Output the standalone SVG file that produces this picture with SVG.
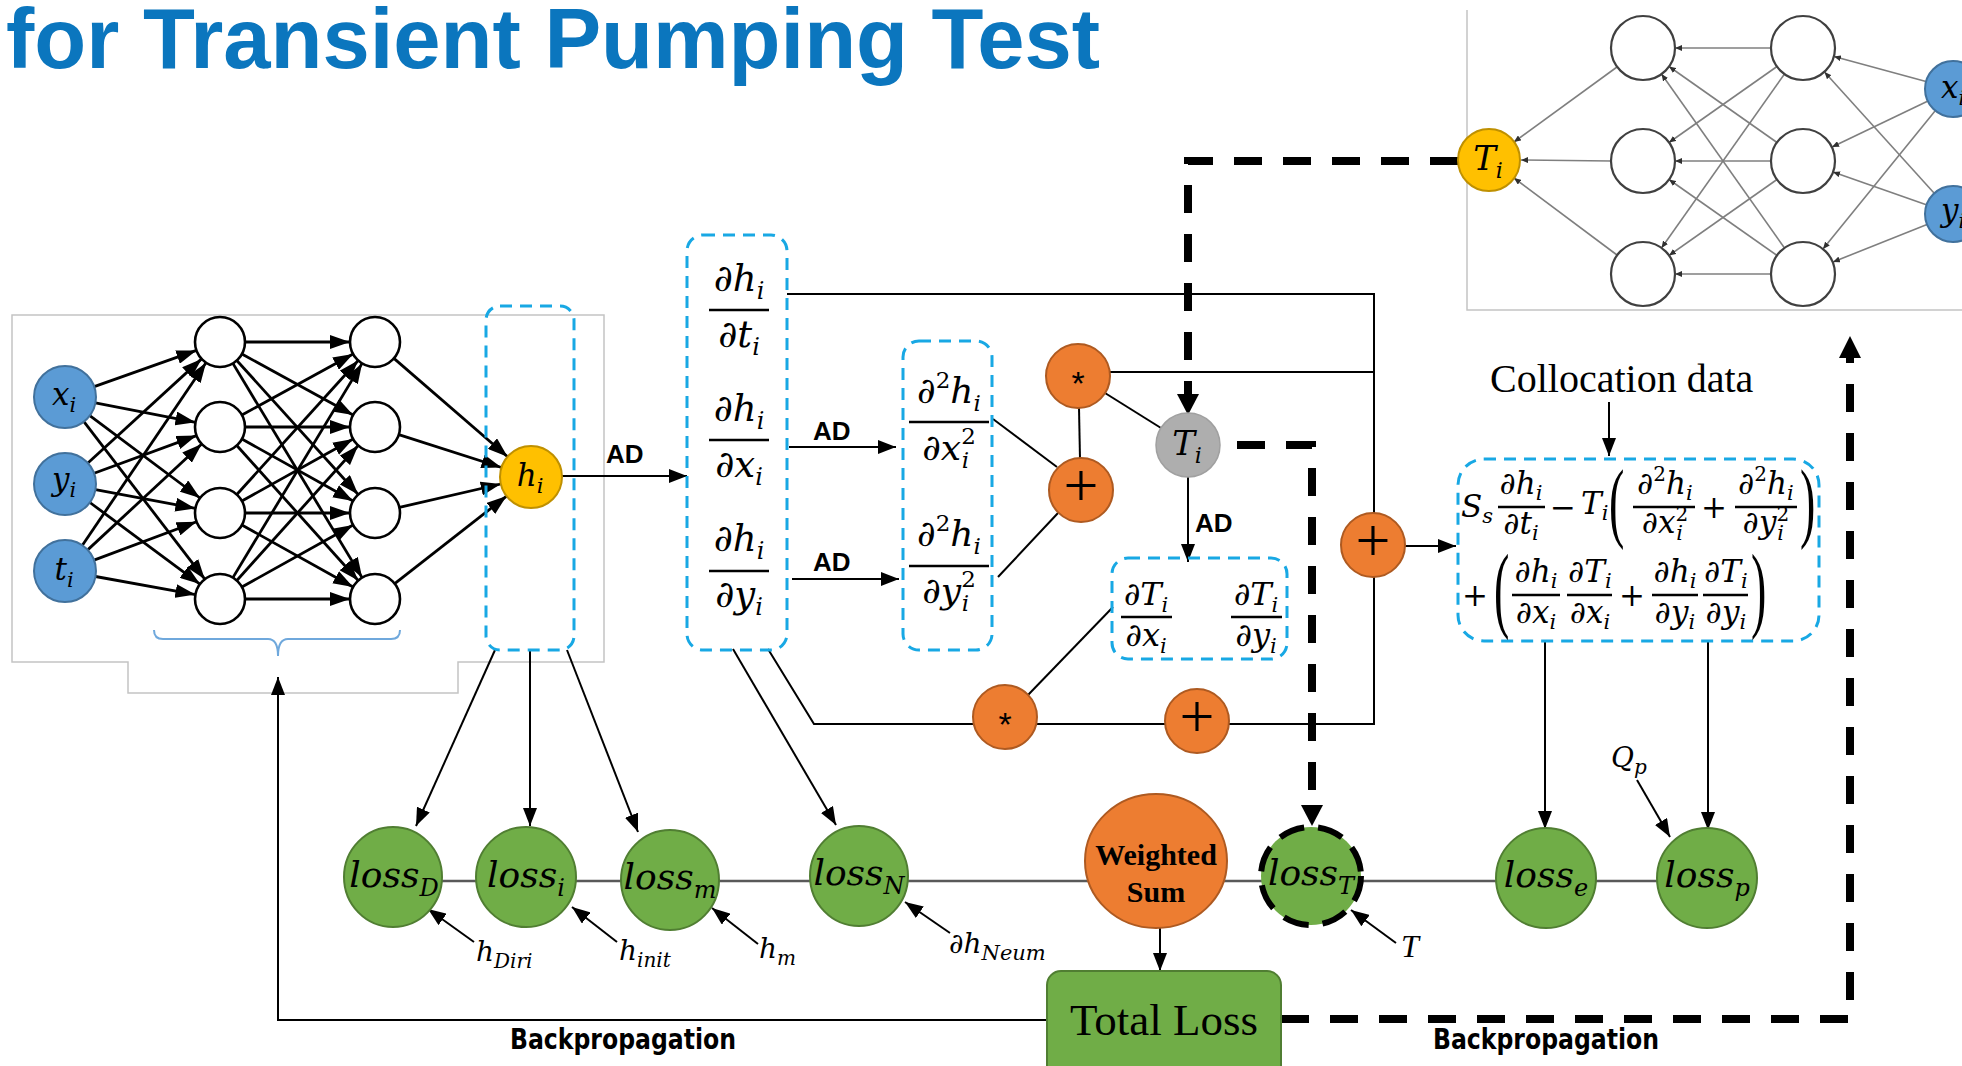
<svg xmlns="http://www.w3.org/2000/svg" width="1962" height="1066" viewBox="0 0 1962 1066">
<defs>
<style>
.title{font-family:"Liberation Sans",Arial,sans-serif;font-weight:bold;font-size:85px;fill:#0B76BE}
.c{stroke:#000;stroke-width:2;fill:none}
.ca{stroke:#000;stroke-width:2;fill:none;marker-end:url(#ah)}
.nn{stroke:#000;stroke-width:2.8;marker-end:url(#ahNN)}
.tr{stroke:#7F7F7F;stroke-width:1.6;marker-end:url(#ahS)}
.db{fill:none;stroke:#18A8E4;stroke-width:3;stroke-dasharray:12 8}
.thick{fill:none;stroke:#000;stroke-width:8;stroke-dasharray:28 21}
.bar{stroke:#000;stroke-width:2.4}
.m{font-family:"DejaVu Serif",serif;font-style:italic;fill:#000}
.u{font-style:normal}
.ad{font-family:"Liberation Sans",Arial,sans-serif;font-weight:bold;font-size:26px}
.blue{fill:#5B9BD5;stroke:#41719C;stroke-width:2}
.yel{fill:#FFC000;stroke:#BF9000;stroke-width:2}
.gry{fill:#AEAEAE;stroke:#A0A0A0;stroke-width:1.5}
.org{fill:#ED7D31;stroke:#AE5A21;stroke-width:2}
.grn{fill:#70AD47;stroke:#507E32;stroke-width:2}
.hid{fill:#fff;stroke:#000;stroke-width:2.6}
.hid2{fill:#fff;stroke:#404040;stroke-width:2.2}
.bp{font-family:"Liberation Sans Narrow","DejaVu Sans Condensed","Liberation Sans",sans-serif;font-weight:bold;font-size:28px}
.ser{font-family:"Liberation Serif","Times New Roman",serif}
.op{font-family:"Liberation Sans",Arial,sans-serif}
.frame{fill:none;stroke:#C4C4C4;stroke-width:1.5}
.par{font-family:"Liberation Serif","Times New Roman",serif;font-size:46px}
</style>
<marker id="ah" markerUnits="userSpaceOnUse" viewBox="0 0 18 14" refX="18" refY="7" markerWidth="18" markerHeight="14" orient="auto"><path d="M0,0 L18,7 L0,14 z" fill="#000"/></marker>
<marker id="ahNN" markerUnits="userSpaceOnUse" viewBox="0 0 20 14" refX="20" refY="7" markerWidth="20" markerHeight="14" orient="auto"><path d="M0,0 L20,7 L0,14 z" fill="#000"/></marker>
<marker id="ahS" markerUnits="userSpaceOnUse" viewBox="0 0 7 6" refX="7" refY="3" markerWidth="7" markerHeight="6" orient="auto"><path d="M0,0 L7,3 L0,6 z" fill="#303030"/></marker>
</defs>

<rect width="1962" height="1066" fill="#fff"/>

<text class="title" x="6" y="68">for Transient Pumping Test</text>

<!-- frames behind the two networks -->
<g id="frames">
<path class="frame" d="M12,315 H604 V662 H458 V693 H128 V662 H12 Z"/>
<path class="frame" d="M1467,10 V310 H1962"/>
<path d="M154,630 Q154,639 163,639 H268 Q278,639 278,656 Q278,639 288,639 H391 Q400,639 400,630" fill="none" stroke="#6FA8DC" stroke-width="2"/>
</g>

<g id="connectors">
<!-- loss row -->
<line x1="393" y1="881" x2="1707" y2="881" stroke="#595959" stroke-width="2.5"/>

<!-- primary network edges: inputs to first hidden layer -->
<line class="nn" x1="94.2" y1="386.6" x2="196.4" y2="350.4"/>
<line class="nn" x1="95.4" y1="402.9" x2="195.5" y2="422.3"/>
<line class="nn" x1="89.8" y1="415.6" x2="200" y2="498"/>
<line class="nn" x1="83.9" y1="421.6" x2="204.8" y2="579.2"/>
<line class="nn" x1="87.9" y1="463" x2="201.6" y2="358.9"/>
<line class="nn" x1="94.1" y1="473.3" x2="196.5" y2="435.6"/>
<line class="nn" x1="95.5" y1="489.7" x2="195.4" y2="508.4"/>
<line class="nn" x1="89.9" y1="502.5" x2="199.9" y2="584.1"/>
<line class="nn" x1="82.4" y1="545.3" x2="206" y2="362.7"/>
<line class="nn" x1="87.7" y1="549.9" x2="201.7" y2="444"/>
<line class="nn" x1="94" y1="560.1" x2="196.6" y2="521.8"/>
<line class="nn" x1="95.5" y1="576.5" x2="195.4" y2="594.6"/>
<!-- first hidden to second hidden -->
<line class="nn" x1="245" y1="342" x2="350" y2="342"/>
<line class="nn" x1="241.9" y1="354" x2="353.1" y2="415"/>
<line class="nn" x1="236.8" y1="360.5" x2="358.2" y2="494.5"/>
<line class="nn" x1="232.9" y1="363.4" x2="362.1" y2="577.6"/>
<line class="nn" x1="241.9" y1="415" x2="353.1" y2="354"/>
<line class="nn" x1="245" y1="427" x2="350" y2="427"/>
<line class="nn" x1="241.9" y1="439" x2="353.1" y2="501"/>
<line class="nn" x1="236.8" y1="445.5" x2="358.2" y2="580.5"/>
<line class="nn" x1="236.8" y1="494.5" x2="358.2" y2="360.5"/>
<line class="nn" x1="241.9" y1="501" x2="353.1" y2="439"/>
<line class="nn" x1="245" y1="513" x2="350" y2="513"/>
<line class="nn" x1="241.9" y1="525" x2="353.1" y2="587"/>
<line class="nn" x1="232.9" y1="577.6" x2="362.1" y2="363.4"/>
<line class="nn" x1="236.8" y1="580.5" x2="358.2" y2="445.5"/>
<line class="nn" x1="241.9" y1="587" x2="353.1" y2="525"/>
<line class="nn" x1="245" y1="599" x2="350" y2="599"/>
<!-- second hidden to output -->
<line class="nn" x1="393.9" y1="358.4" x2="507.6" y2="456.7"/>
<line class="nn" x1="398.8" y1="434.6" x2="501.5" y2="467.5"/>
<line class="nn" x1="399.4" y1="507.4" x2="500.8" y2="484"/>
<line class="nn" x1="394.7" y1="583.6" x2="506.6" y2="496.1"/>

<!-- automatic differentiation chain -->
<line class="ca" x1="562" y1="476" x2="687" y2="476"/>
<line class="ca" x1="789" y1="447" x2="896" y2="447"/>
<line class="ca" x1="792" y1="579" x2="899" y2="579"/>
<path class="c" d="M787,294 H1374 V514"/>
<line class="c" x1="1078" y1="372" x2="1374" y2="372"/>
<line class="c" x1="1079" y1="408" x2="1080" y2="459"/>
<line class="c" x1="1105" y1="393" x2="1161" y2="428"/>
<line class="c" x1="993" y1="419" x2="1057" y2="467"/>
<line class="c" x1="998" y1="577" x2="1058" y2="513"/>
<path class="c" d="M768,649 L814,724 H1374 V577"/>
<line class="c" x1="1113" y1="607" x2="1028" y2="695"/>
<line class="ca" x1="1405" y1="546" x2="1456" y2="546"/>
<line class="ca" x1="1188" y1="477" x2="1188" y2="562"/>
<line class="ca" x1="1609" y1="402" x2="1609" y2="456"/>

<!-- arrows into the loss terms -->
<line class="ca" x1="495" y1="650" x2="416" y2="826"/>
<line class="ca" x1="530" y1="650" x2="530" y2="826"/>
<line class="ca" x1="567" y1="650" x2="638" y2="832"/>
<line class="ca" x1="733" y1="649" x2="836" y2="825"/>
<line class="ca" x1="1545" y1="641" x2="1545" y2="829"/>
<line class="ca" x1="1708" y1="641" x2="1708" y2="830"/>
<line class="ca" x1="1160" y1="928" x2="1160" y2="971"/>
<line class="ca" x1="474" y1="942" x2="428" y2="909"/>
<line class="ca" x1="617" y1="942" x2="572" y2="907"/>
<line class="ca" x1="758" y1="944" x2="712" y2="908"/>
<line class="ca" x1="950" y1="933" x2="905" y2="902"/>
<line class="ca" x1="1396" y1="943" x2="1351" y2="910"/>
<line class="ca" x1="1637" y1="780" x2="1670" y2="837"/>

<!-- backpropagation to the primary network -->
<path class="ca" d="M1047,1020 H278 V677"/>

<!-- transmissivity network links and its backpropagation -->
<path class="thick" d="M1458,161 H1188 V394"/>
<polygon points="1177,394 1199,394 1188,415" fill="#000"/>
<path class="thick" d="M1237,445 H1312 V806"/>
<polygon points="1301,805 1323,805 1312,826" fill="#000"/>
<path class="thick" d="M1281,1019 H1850 V358"/>
<polygon points="1839,358 1861,358 1850,336" fill="#000"/>

<!-- secondary network edges (right to left) -->
<line class="tr" x1="1617" y1="67" x2="1514" y2="142"/>
<line class="tr" x1="1611" y1="161" x2="1521" y2="160"/>
<line class="tr" x1="1617" y1="255" x2="1514" y2="178"/>
<line class="tr" x1="1771" y1="48" x2="1675" y2="48"/>
<line class="tr" x1="1777" y1="66.5" x2="1669" y2="142.5"/>
<line class="tr" x1="1784.5" y1="74" x2="1661.5" y2="248"/>
<line class="tr" x1="1777" y1="142.5" x2="1669" y2="66.5"/>
<line class="tr" x1="1771" y1="161" x2="1675" y2="161"/>
<line class="tr" x1="1777" y1="179.5" x2="1669" y2="255.5"/>
<line class="tr" x1="1784.5" y1="248" x2="1661.5" y2="74"/>
<line class="tr" x1="1777" y1="255.5" x2="1669" y2="179.5"/>
<line class="tr" x1="1771" y1="274" x2="1675" y2="274"/>
<line class="tr" x1="1926" y1="81.6" x2="1834" y2="56.4"/>
<line class="tr" x1="1928" y1="101" x2="1832" y2="147"/>
<line class="tr" x1="1935" y1="111" x2="1823" y2="249"/>
<line class="tr" x1="1934" y1="193" x2="1824.5" y2="72"/>
<line class="tr" x1="1927" y1="205" x2="1833" y2="172"/>
<line class="tr" x1="1927" y1="224.4" x2="1833" y2="262"/>
</g>

<!-- AD labels -->
<g id="ad-labels">
<text class="ad" x="606" y="463">AD</text>
<text class="ad" x="813" y="440">AD</text>
<text class="ad" x="813" y="571">AD</text>
<text class="ad" x="1195" y="532">AD</text>
</g>

<!-- primary network -->
<g id="node-x-in"><circle class="blue" cx="65" cy="397" r="31"/><text class="m" x="64" y="405" text-anchor="middle" font-size="31">x<tspan font-size="21" dy="7">i</tspan></text></g>
<g id="node-y-in"><circle class="blue" cx="65" cy="484" r="31"/><text class="m" x="64" y="490" text-anchor="middle" font-size="31">y<tspan font-size="21" dy="7">i</tspan></text></g>
<g id="node-t-in"><circle class="blue" cx="65" cy="571" r="31"/><text class="m" x="64" y="580" text-anchor="middle" font-size="31">t<tspan font-size="21" dy="7">i</tspan></text></g>
<g id="hidden-1">
<circle class="hid" cx="220" cy="342" r="25"/><circle class="hid" cx="220" cy="427" r="25"/>
<circle class="hid" cx="220" cy="513" r="25"/><circle class="hid" cx="220" cy="599" r="25"/>
</g>
<g id="hidden-2">
<circle class="hid" cx="375" cy="342" r="25"/><circle class="hid" cx="375" cy="427" r="25"/>
<circle class="hid" cx="375" cy="513" r="25"/><circle class="hid" cx="375" cy="599" r="25"/>
</g>
<g id="node-h"><circle class="yel" cx="531" cy="477" r="31"/><text class="m" x="530" y="486" text-anchor="middle" font-size="31">h<tspan font-size="21" dy="7">i</tspan></text></g>
<g id="box-h"><rect class="db" x="486" y="306" width="88" height="344" rx="14"/></g>

<!-- first derivatives -->
<g id="box-first-derivatives">
<rect class="db" x="687" y="235" width="100" height="415" rx="16"/>
<text class="m" x="739" y="291" text-anchor="middle" font-size="37"><tspan class="u">∂</tspan>h<tspan font-size="24" dy="8">i</tspan></text>
<line class="bar" x1="709" y1="310" x2="769" y2="310"/>
<text class="m" x="739" y="347" text-anchor="middle" font-size="37"><tspan class="u">∂</tspan>t<tspan font-size="24" dy="8">i</tspan></text>
<text class="m" x="739" y="421" text-anchor="middle" font-size="37"><tspan class="u">∂</tspan>h<tspan font-size="24" dy="8">i</tspan></text>
<line class="bar" x1="709" y1="440" x2="769" y2="440"/>
<text class="m" x="739" y="477" text-anchor="middle" font-size="37"><tspan class="u">∂</tspan>x<tspan font-size="24" dy="8">i</tspan></text>
<text class="m" x="739" y="551" text-anchor="middle" font-size="37"><tspan class="u">∂</tspan>h<tspan font-size="24" dy="8">i</tspan></text>
<line class="bar" x1="709" y1="571" x2="769" y2="571"/>
<text class="m" x="739" y="607" text-anchor="middle" font-size="37"><tspan class="u">∂</tspan>y<tspan font-size="24" dy="8">i</tspan></text>
</g>

<!-- second derivatives -->
<g id="box-second-derivatives">
<rect class="db" x="903" y="341" width="89" height="309" rx="16"/>
<text class="m" x="949" y="403" text-anchor="middle" font-size="36"><tspan class="u">∂</tspan><tspan class="u" font-size="23" dy="-15">2</tspan><tspan dy="15">h</tspan><tspan font-size="23" dy="8">i</tspan></text>
<line class="bar" x1="909" y1="422" x2="989" y2="422"/>
<text class="m" x="949" y="460" text-anchor="middle" font-size="36"><tspan class="u">∂</tspan>x<tspan class="u" font-size="23" dy="-16">2</tspan><tspan font-size="23" dx="-14" dy="24">i</tspan></text>
<text class="m" x="949" y="546" text-anchor="middle" font-size="36"><tspan class="u">∂</tspan><tspan class="u" font-size="23" dy="-15">2</tspan><tspan dy="15">h</tspan><tspan font-size="23" dy="8">i</tspan></text>
<line class="bar" x1="909" y1="566" x2="989" y2="566"/>
<text class="m" x="949" y="603" text-anchor="middle" font-size="36"><tspan class="u">∂</tspan>y<tspan class="u" font-size="23" dy="-16">2</tspan><tspan font-size="23" dx="-14" dy="24">i</tspan></text>
</g>

<!-- operators -->
<g id="op-mul-1"><circle class="org" cx="1078" cy="376" r="32"/><text class="op" x="1078" y="395" text-anchor="middle" font-size="34">*</text></g>
<g id="op-add-1"><circle class="org" cx="1081" cy="490" r="32"/><text class="ser" x="1081" y="506" text-anchor="middle" font-size="62">+</text></g>
<g id="op-mul-2"><circle class="org" cx="1005" cy="717" r="32"/><text class="op" x="1005" y="736" text-anchor="middle" font-size="34">*</text></g>
<g id="op-add-2"><circle class="org" cx="1197" cy="721" r="32"/><text class="ser" x="1197" y="737" text-anchor="middle" font-size="62">+</text></g>
<g id="op-add-3"><circle class="org" cx="1373" cy="545" r="32"/><text class="ser" x="1373" y="561" text-anchor="middle" font-size="62">+</text></g>

<!-- transmissivity and its gradients -->
<g id="node-T-local"><circle class="gry" cx="1188" cy="445" r="32"/><text class="m" x="1187" y="455" text-anchor="middle" font-size="34">T<tspan font-size="22" dy="8">i</tspan></text></g>
<g id="box-T-derivatives">
<rect class="db" x="1112" y="558" width="175" height="101" rx="16"/>
<text class="m" x="1146" y="605" text-anchor="middle" font-size="32"><tspan class="u">∂</tspan>T<tspan font-size="21" dy="7">i</tspan></text>
<line class="bar" x1="1121" y1="617" x2="1172" y2="617"/>
<text class="m" x="1146" y="646" text-anchor="middle" font-size="32"><tspan class="u">∂</tspan>x<tspan font-size="21" dy="7">i</tspan></text>
<text class="m" x="1256" y="605" text-anchor="middle" font-size="32"><tspan class="u">∂</tspan>T<tspan font-size="21" dy="7">i</tspan></text>
<line class="bar" x1="1231" y1="617" x2="1282" y2="617"/>
<text class="m" x="1256" y="646" text-anchor="middle" font-size="32"><tspan class="u">∂</tspan>y<tspan font-size="21" dy="7">i</tspan></text>
</g>

<!-- governing equation residual -->
<g id="collocation">
<text class="ser" x="1490" y="392" font-size="40">Collocation data</text>
</g>
<g id="box-equation">
<rect class="db" x="1458" y="459" width="361" height="182" rx="26"/>
<text class="m" x="1461" y="517" font-size="31">S<tspan font-size="21" dy="6">s</tspan></text>
<text class="m" x="1521" y="494" text-anchor="middle" font-size="31"><tspan class="u">∂</tspan>h<tspan font-size="21" dy="6">i</tspan></text>
<line class="bar" x1="1498" y1="507" x2="1545" y2="507"/>
<text class="m" x="1521" y="534" text-anchor="middle" font-size="31"><tspan class="u">∂</tspan>t<tspan font-size="21" dy="6">i</tspan></text>
<text class="m u" x="1563" y="518" text-anchor="middle" font-size="31">−</text>
<text class="m" x="1581" y="514" font-size="31">T<tspan font-size="21" dy="6">i</tspan></text>
<text class="par" transform="translate(1609,531) scale(1,1.95)">(</text>
<text class="m" x="1665" y="494" text-anchor="middle" font-size="31"><tspan class="u">∂</tspan><tspan class="u" font-size="20" dy="-13">2</tspan><tspan dy="13">h</tspan><tspan font-size="21" dy="6">i</tspan></text>
<line class="bar" x1="1633" y1="507" x2="1695" y2="507"/>
<text class="m" x="1665" y="533" text-anchor="middle" font-size="31"><tspan class="u">∂</tspan>x<tspan class="u" font-size="20" dy="-12">2</tspan><tspan font-size="21" dx="-12" dy="19">i</tspan></text>
<text class="m u" x="1714" y="518" text-anchor="middle" font-size="31">+</text>
<text class="m" x="1766" y="494" text-anchor="middle" font-size="31"><tspan class="u">∂</tspan><tspan class="u" font-size="20" dy="-13">2</tspan><tspan dy="13">h</tspan><tspan font-size="21" dy="6">i</tspan></text>
<line class="bar" x1="1735" y1="507" x2="1797" y2="507"/>
<text class="m" x="1766" y="533" text-anchor="middle" font-size="31"><tspan class="u">∂</tspan>y<tspan class="u" font-size="20" dy="-12">2</tspan><tspan font-size="21" dx="-12" dy="19">i</tspan></text>
<text class="par" transform="translate(1800,531) scale(1,1.95)">)</text>
<text class="m u" x="1475" y="606" text-anchor="middle" font-size="31">+</text>
<text class="par" transform="translate(1494,620) scale(1,2.05)">(</text>
<text class="m" x="1536" y="582" text-anchor="middle" font-size="31"><tspan class="u">∂</tspan>h<tspan font-size="21" dy="6">i</tspan></text>
<line class="bar" x1="1512" y1="595" x2="1560" y2="595"/>
<text class="m" x="1536" y="623" text-anchor="middle" font-size="31"><tspan class="u">∂</tspan>x<tspan font-size="21" dy="6">i</tspan></text>
<text class="m" x="1590" y="582" text-anchor="middle" font-size="31"><tspan class="u">∂</tspan>T<tspan font-size="21" dy="6">i</tspan></text>
<line class="bar" x1="1567" y1="595" x2="1612" y2="595"/>
<text class="m" x="1590" y="623" text-anchor="middle" font-size="31"><tspan class="u">∂</tspan>x<tspan font-size="21" dy="6">i</tspan></text>
<text class="m u" x="1632" y="606" text-anchor="middle" font-size="31">+</text>
<text class="m" x="1675" y="582" text-anchor="middle" font-size="31"><tspan class="u">∂</tspan>h<tspan font-size="21" dy="6">i</tspan></text>
<line class="bar" x1="1652" y1="595" x2="1698" y2="595"/>
<text class="m" x="1675" y="623" text-anchor="middle" font-size="31"><tspan class="u">∂</tspan>y<tspan font-size="21" dy="6">i</tspan></text>
<text class="m" x="1726" y="582" text-anchor="middle" font-size="31"><tspan class="u">∂</tspan>T<tspan font-size="21" dy="6">i</tspan></text>
<line class="bar" x1="1703" y1="595" x2="1748" y2="595"/>
<text class="m" x="1726" y="623" text-anchor="middle" font-size="31"><tspan class="u">∂</tspan>y<tspan font-size="21" dy="6">i</tspan></text>
<text class="par" transform="translate(1751,620) scale(1,2.05)">)</text>
</g>

<!-- secondary network -->
<g id="node-T-out"><circle class="yel" cx="1489" cy="160" r="31"/><text class="m" x="1488" y="170" text-anchor="middle" font-size="34">T<tspan font-size="22" dy="8">i</tspan></text></g>
<g id="hidden-T-1">
<circle class="hid2" cx="1643" cy="48" r="32"/><circle class="hid2" cx="1643" cy="161" r="32"/><circle class="hid2" cx="1643" cy="274" r="32"/>
</g>
<g id="hidden-T-2">
<circle class="hid2" cx="1803" cy="48" r="32"/><circle class="hid2" cx="1803" cy="161" r="32"/><circle class="hid2" cx="1803" cy="274" r="32"/>
</g>
<g id="node-x-T"><circle class="blue" cx="1953" cy="89" r="28"/><text class="m" x="1941" y="98" font-size="31">x<tspan font-size="21" dy="7">i</tspan></text></g>
<g id="node-y-T"><circle class="blue" cx="1953" cy="214" r="28"/><text class="m" x="1941" y="221" font-size="31">y<tspan font-size="21" dy="7">i</tspan></text></g>

<!-- loss terms -->
<g id="loss-D"><ellipse class="grn" cx="393" cy="877" rx="49" ry="50"/><text class="m" x="394" y="887" text-anchor="middle" font-size="36">loss<tspan font-size="24" dy="9">D</tspan></text></g>
<g id="loss-i"><ellipse class="grn" cx="526" cy="877" rx="50" ry="50"/><text class="m" x="526" y="887" text-anchor="middle" font-size="36">loss<tspan font-size="24" dy="9">i</tspan></text></g>
<g id="loss-m"><ellipse class="grn" cx="670" cy="880" rx="49" ry="50"/><text class="m" x="670" y="889" text-anchor="middle" font-size="36">loss<tspan font-size="24" dy="9">m</tspan></text></g>
<g id="loss-N"><ellipse class="grn" cx="859" cy="876" rx="49" ry="50"/><text class="m" x="859" y="885" text-anchor="middle" font-size="36">loss<tspan font-size="24" dy="9">N</tspan></text></g>
<g id="weighted-sum"><ellipse class="org" cx="1156" cy="861" rx="71" ry="67"/>
<text class="ser" x="1156" y="865" text-anchor="middle" font-size="30" font-weight="bold">Weighted</text>
<text class="ser" x="1156" y="902" text-anchor="middle" font-size="30" font-weight="bold">Sum</text></g>
<g id="loss-T"><ellipse cx="1311" cy="876" rx="50" ry="49" fill="#70AD47" stroke="#000" stroke-width="6" stroke-dasharray="26 14"/><text class="m" x="1311" y="885" text-anchor="middle" font-size="36">loss<tspan font-size="24" dy="9">T</tspan></text></g>
<g id="loss-e"><ellipse class="grn" cx="1546" cy="878" rx="50" ry="50"/><text class="m" x="1546" y="887" text-anchor="middle" font-size="36">loss<tspan font-size="24" dy="9">e</tspan></text></g>
<g id="loss-p"><ellipse class="grn" cx="1707" cy="878" rx="50" ry="50"/><text class="m" x="1707" y="887" text-anchor="middle" font-size="36">loss<tspan font-size="24" dy="9">p</tspan></text></g>
<g id="total-loss"><rect class="grn" x="1047" y="971" width="234" height="110" rx="14"/><text class="ser" x="1164" y="1035" text-anchor="middle" font-size="45">Total Loss</text></g>

<!-- data labels -->
<g id="data-labels">
<text class="m" x="476" y="961" font-size="28">h<tspan font-size="20" dy="7">Diri</tspan></text>
<text class="m" x="619" y="960" font-size="28">h<tspan font-size="20" dy="7">init</tspan></text>
<text class="m" x="759" y="958" font-size="28">h<tspan font-size="20" dy="7">m</tspan></text>
<text class="m" x="949" y="953" font-size="28"><tspan class="u">∂</tspan>h<tspan font-size="21" dy="7">Neum</tspan></text>
<text class="ser" x="1401" y="957" font-size="32" font-style="italic">T</text>
<text class="m" x="1611" y="767" font-size="28">Q<tspan font-size="20" dy="7">p</tspan></text>
</g>

<text class="bp" x="510" y="1049" textLength="226" lengthAdjust="spacingAndGlyphs">Backpropagation</text>
<text class="bp" x="1433" y="1049" textLength="226" lengthAdjust="spacingAndGlyphs">Backpropagation</text>
</svg>
